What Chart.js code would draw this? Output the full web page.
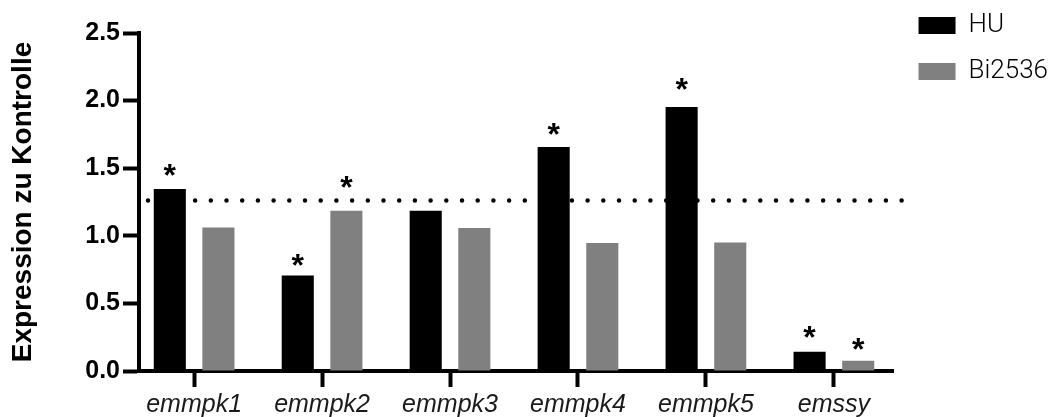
<!DOCTYPE html>
<html><head><meta charset="utf-8">
<script src="https://cdn.jsdelivr.net/npm/chart.js@4"></script>
<style>html,body{margin:0;padding:0;background:#fff;}</style>
</head><body>
<canvas id="c" width="1061" height="417" style="width:1061px;height:417px;display:block"></canvas>
<script>
// ---- data ----
const categories = ['emmpk1', 'emmpk2', 'emmpk3', 'emmpk4', 'emmpk5', 'emssy'];
const huValues = [1.346, 0.706, 1.185, 1.657, 1.953, 0.143];
const biValues = [1.061, 1.185, 1.057, 0.946, 0.950, 0.076];
// significance markers (*): level of the star in data units, null = none
const huStarLevels = [1.465, 0.80, null, 1.77, 2.097, 0.268];
const biStarLevels = [null, 1.376, null, null, null, 0.178];
const referenceLevel = 1.261;
const yTickValues = [0, 0.5, 1.0, 1.5, 2.0, 2.5];
const seriesNames = ['HU', 'Bi2536'];
const yTitle = 'Expression zu Kontrolle';

const FONT = "'Liberation Sans', Arial, Helvetica, sans-serif";

const refLinePlugin = {
  id: 'refLine',
  beforeDatasetsDraw(chart) {
    const {ctx, chartArea, scales} = chart;
    const y = scales.y.getPixelForValue(referenceLevel);
    ctx.save();
    ctx.strokeStyle = '#000';
    ctx.lineWidth = 4.5;
    ctx.lineCap = 'round';
    ctx.setLineDash([0, 15.7]);
    ctx.beginPath();
    ctx.moveTo(chartArea.left + 9, y);
    ctx.lineTo(chartArea.right + 11, y);
    ctx.stroke();
    ctx.restore();
  }
};

const starPlugin = {
  id: 'stars',
  afterDatasetsDraw(chart) {
    const {ctx, scales} = chart;
    const levels = [huStarLevels, biStarLevels];
    ctx.save();
    ctx.fillStyle = '#000';
    ctx.font = 'bold 32px ' + FONT;
    ctx.textAlign = 'center';
    ctx.textBaseline = 'alphabetic';
    chart.data.datasets.forEach((ds, di) => {
      const meta = chart.getDatasetMeta(di);
      meta.data.forEach((bar, i) => {
        const lv = levels[di][i];
        if (lv !== null && lv !== undefined) {
          ctx.fillText('*', bar.x, scales.y.getPixelForValue(lv) + 13);
        }
      });
    });
    ctx.restore();
  }
};

const legendNudge = {
  id: 'legendNudge',
  afterLayout(chart) {
    const lg = chart.legend;
    if (!lg) return;
    const dy = -7.5 - lg.top;
    lg.top += dy; lg.bottom += dy;
    lg.left += 5; lg.right += 5;
  }
};

new Chart(document.getElementById('c'), {
  type: 'bar',
  data: {
    datasets: [
      {
        label: seriesNames[0],
        data: huValues.map((v, i) => ({x: i, y: v})),
        backgroundColor: '#000000',
        borderWidth: 0,
        categoryPercentage: 0.76,
        barPercentage: 0.66
      },
      {
        label: seriesNames[1],
        data: biValues.map((v, i) => ({x: i, y: v})),
        backgroundColor: '#808080',
        borderWidth: 0,
        categoryPercentage: 0.76,
        barPercentage: 0.66
      }
    ]
  },
  options: {
    responsive: false,
    animation: false,
    devicePixelRatio: 1,
    layout: {padding: {top: 33, right: 8, bottom: 0, left: 0}},
    plugins: {
      legend: {
        position: 'right',
        align: 'start',
        labels: {
          boxWidth: 37,
          boxHeight: 17,
          padding: 20,
          color: '#000',
          font: {family: "Roboto, 'Liberation Sans', Arial, sans-serif", size: 26, weight: 300}
        }
      },
      tooltip: {enabled: false}
    },
    scales: {
      x: {
        type: 'linear',
        min: -0.4307,
        max: 5.466,
        offset: false,
        grid: {
          offset: false,
          drawOnChartArea: false,
          drawTicks: true,
          tickLength: 16,
          tickWidth: 4,
          tickColor: '#000'
        },
        border: {display: true, width: 4, color: '#000'},
        afterBuildTicks: (s) => { s.ticks = categories.map((_, i) => ({value: i})); },
        afterFit: (s) => { s.height = 46; },
        ticks: {
          autoSkip: false,
          maxRotation: 0,
          padding: 3,
          color: '#1a1a1a',
          font: {family: FONT, size: 25, style: 'italic'},
          callback: (v) => categories[v] !== undefined ? categories[v] : ''
        }
      },
      y: {
        min: 0,
        max: 2.5,
        afterBuildTicks: (s) => { s.ticks = yTickValues.map(v => ({value: v})); },
        afterFit: (s) => { s.width = 139; },
        grid: {
          drawOnChartArea: false,
          drawTicks: true,
          tickLength: 16,
          tickWidth: 4,
          tickColor: '#000'
        },
        border: {display: true, width: 4, color: '#000'},
        ticks: {
          padding: 3,
          color: '#000',
          font: {family: FONT, size: 25, weight: 'bold'},
          callback: (v) => Number(v).toFixed(1)
        },
        title: {
          display: true,
          text: yTitle,
          color: '#000',
          padding: {top: 6, bottom: 0},
          font: {family: FONT, size: 28, weight: 'bold'}
        }
      }
    }
  },
  plugins: [refLinePlugin, starPlugin, legendNudge]
});
</script>
</body></html>
